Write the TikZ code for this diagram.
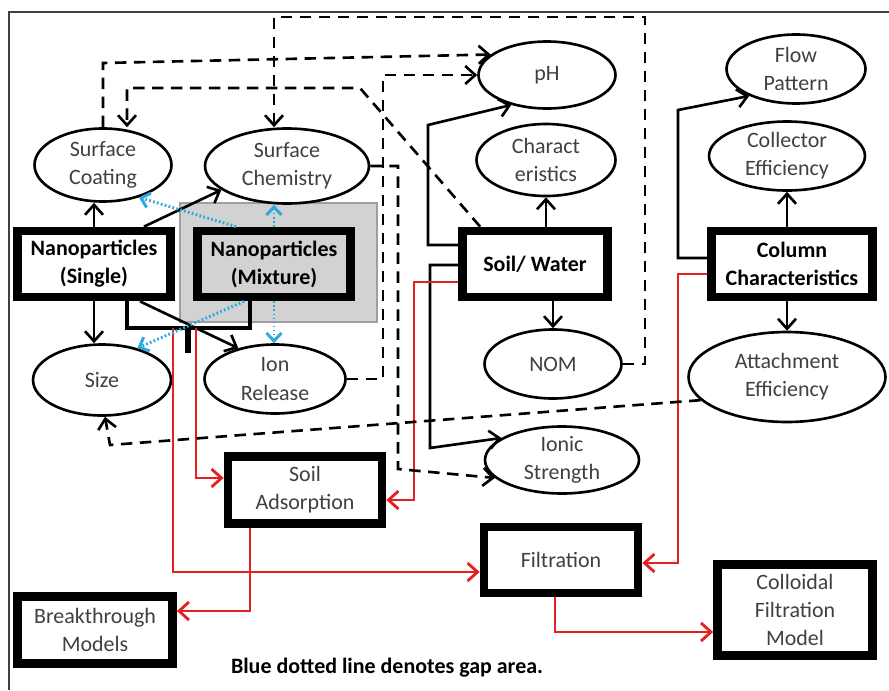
\documentclass[tikz,border=0pt]{standalone}
\usepackage{fontspec}
\setmainfont{Carlito}
\usetikzlibrary{arrows.meta,shapes.geometric,calc}
\definecolor{gapblue}{RGB}{45,170,220}
\definecolor{flowred}{RGB}{228,32,32}
\tikzset{
  oval/.style={ellipse, draw, line width=1.5pt, inner sep=0pt, align=center, text=black!75, font=\fontsize{12.5}{16}\selectfont},
  thickbox/.style={draw, line width=5pt, inner sep=0pt, align=center, font=\bfseries\fontsize{12.5}{16}\selectfont},
  plainbox/.style={draw, line width=5pt, inner sep=0pt, align=center, text=black!75, font=\fontsize{12.5}{16}\selectfont},
  arr/.style={line width=1.5pt, -{Straight Barb[length=2mm,width=3.6mm]}},
  redarr/.style={flowred, line width=1.6pt, -{Straight Barb[length=2mm,width=3.6mm]}},
  dsh/.style={line width=1.5pt, dash pattern=on 2.3mm off 1.5mm, -{Straight Barb[length=2mm,width=3.6mm]}},
  gap/.style={gapblue, line width=1.7pt, dash pattern=on 1pt off 1.3pt, -{Straight Barb[length=1.6mm,width=3mm]}},
}

\begin{document}
\begin{tikzpicture}[x=0.02cm, y=-0.02cm]
\useasboundingbox (0,0) rectangle (889,690);

\draw[line width=1.6pt, black!75] (9,690) -- (9,12) -- (889,12);
\draw[fill=gray!35, draw=gray!75, line width=1.5pt] (180,203) rectangle (377,322);

\node[oval, minimum width=2.74cm, minimum height=1.46cm] (coating) at (103,165) {Surface\\Coating};
\node[oval, minimum width=3.28cm, minimum height=1.5cm] (chem) at (287,166) {Surface\\Chemistry};
\node[oval, minimum width=2.74cm, minimum height=1.34cm] (ph) at (547,75) {pH};
\node[oval, minimum width=2.78cm, minimum height=1.44cm] (charac) at (546,160) {Charact\\eristics};
\node[oval, minimum width=2.78cm, minimum height=1.38cm] (flow) at (796,69) {Flow\\Pattern};
\node[oval, minimum width=3.12cm, minimum height=1.38cm] (collector) at (787,156) {Collector\\Efficiency};
\node[oval, minimum width=2.76cm, minimum height=1.42cm] (size) at (102,380) {Size};
\node[oval, minimum width=2.82cm, minimum height=1.38cm] (ion) at (275,379) {Ion\\Release};
\node[oval, minimum width=2.74cm, minimum height=1.38cm] (nom) at (553,364) {NOM};
\node[oval, minimum width=3.94cm, minimum height=1.8cm] (attach) at (787,377) {Attachment\\Efficiency};
\node[oval, minimum width=3.08cm, minimum height=1.34cm] (ionic) at (562,460) {Ionic\\Strength};

\node[thickbox, minimum width=3.06cm, minimum height=1.32cm] (single) at (94,264) {Nanoparticles\\(Single)};
\node[thickbox, fill=gray!35, minimum width=3.06cm, minimum height=1.32cm] (mixture) at (274,264) {Nanoparticles\\(Mixture)};
\node[thickbox, minimum width=2.9cm, minimum height=1.32cm] (soil) at (535,264) {Soil/ Water};
\node[thickbox, minimum width=3.22cm, minimum height=1.32cm] (column) at (792,264) {Column\\Characteristics};
\node[plainbox, minimum width=3.08cm, minimum height=1.34cm] (adsorp) at (305,490) {Soil\\Adsorption};
\node[plainbox, minimum width=3.08cm, minimum height=1.32cm] (filtr) at (561,560) {Filtration};
\node[plainbox, minimum width=3.1cm, minimum height=1.34cm] (breakth) at (95,630) {Breakthrough\\Models};
\node[plainbox, minimum width=3.1cm, minimum height=1.82cm] (colloid) at (795,610) {Colloidal\\Filtration\\Model};

\node[font=\bfseries\fontsize{12.5}{14}\selectfont] (note) at (387,668) {Blue dotted line denotes gap area.};

\coordinate (stem) at (188,328);
\coordinate (redA) at (173,328);
\coordinate (redB) at (196,328);

% black links
\draw[arr] (single.north) -- (single.north |- coating.south);
\draw[arr] ($(single.north)+(50,0)$) -- (chem.200);
\draw[arr] (single.south) -- (single.south |- size.north);
\draw[arr] ($(single.south)+(46,0)$) -- (ion.140);
\draw[line width=1.8pt] ($(single.south)+(33,0)$) |- (stem) -| ($(mixture.south)+(-24,0)$);
\draw[line width=3pt] (stem) -- ++(0,25);
\draw[arr] ($(soil.west)+(0,-19)$) -| (428,125) -- (ph.220);
\draw[arr] ($(soil.west)+(0,1)$) -| (430,448) -- (ionic.160);
\draw[arr] (charac.south |- soil.north) -- (charac.south);
\draw[arr] (nom.north |- soil.south) -- (nom.north);
\draw[arr] ($(column.west)+(0,-6)$) -| (678,110) -- (flow.210);
\draw[arr] (collector.south |- column.north) -- (collector.south);
\draw[arr] (attach.north |- column.south) -- (attach.north);

% red links
\draw[redarr] (redA) |- ($(filtr.west)+(0,12)$);
\draw[redarr] (redB) |- ($(adsorp.west)+(0,-12)$);
\draw[redarr] ($(soil.west)+(0,18)$) -| (414,500) -- ($(adsorp.east)+(0,10)$);
\draw[redarr] ($(column.west)+(0,10)$) -| (678,563) -- ($(filtr.east)+(0,3)$);
\draw[redarr] ($(adsorp.south)+(-55,0)$) |- ($(breakth.east)+(0,-19)$);
\draw[redarr] ($(filtr.south)+(-6,0)$) |- ($(colloid.west)+(0,22)$);

% dashed links
\draw[dsh] (coating.north) -- (103,63) -- (ph.160);
\draw[dsh] (ion.east) -| (383,75) -- (ph.west);
\draw[dsh] (chem.east) -| (398,469) -- (ionic.195);
\draw[dsh] (nom.east) -| (645,17) -| ($(chem.north)+(-13,0)$);
\draw[dsh] ($(soil.north west)+(22,0)$) -- (360,88) -| ($(coating.north)+(24,0)$);
\draw[dsh] (attach.195) -- (110,445) -- ($(size.south)+(3,0)$);

% gap links
\draw[gap] ($(mixture.north)+(-38,0)$) -- (coating.318);
\draw[gap] (mixture.north) -- (mixture.north |- chem.south);
\draw[gap] ($(mixture.south)+(-30,0)$) -- (size.42);
\draw[gap] (mixture.south) -- (mixture.south |- ion.north);

\end{tikzpicture}
\end{document}
